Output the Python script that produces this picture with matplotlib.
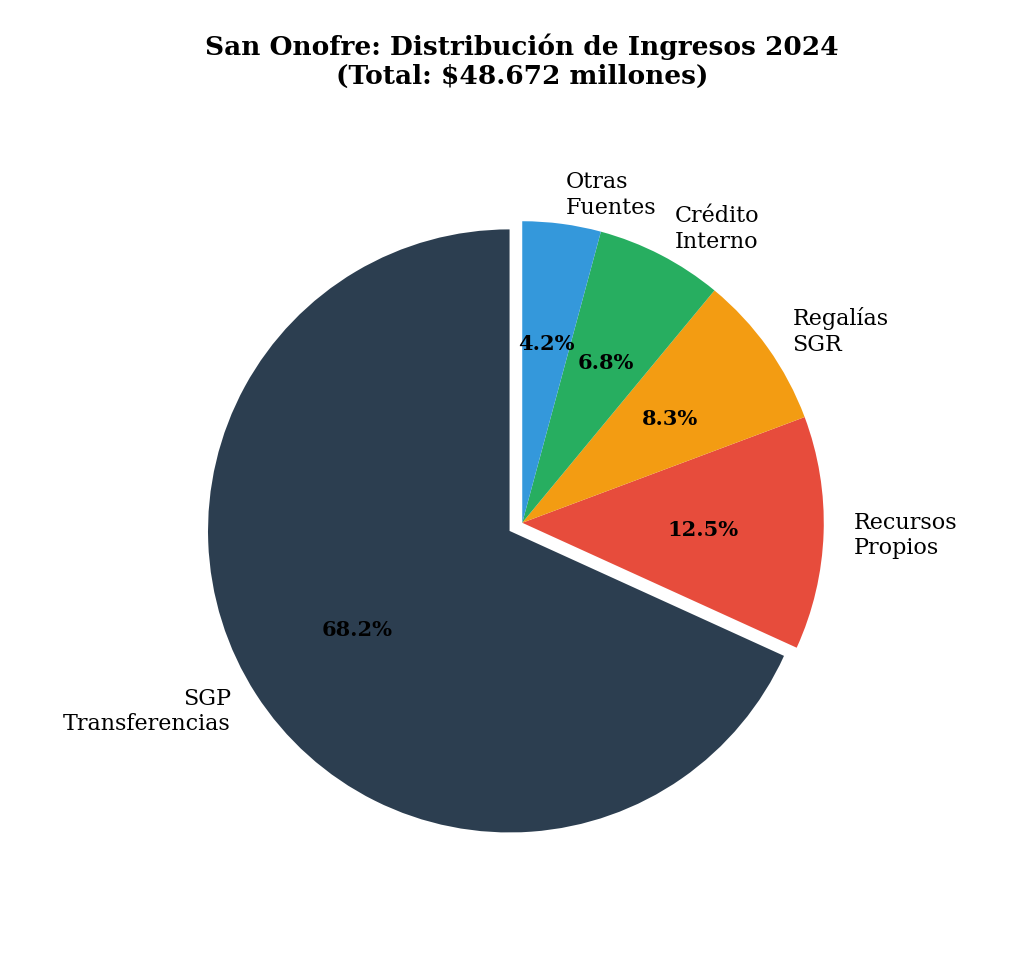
import matplotlib.pyplot as plt

labels = ["SGP\nTransferencias", "Recursos\nPropios", "Regalías\nSGR", "Crédito\nInterno", "Otras\nFuentes"]
shares = [68.2, 12.5, 8.3, 6.8, 4.2]
colors = ["#2c3e50", "#e74c3c", "#f39c12", "#27ae60", "#3498db"]
explode = [0.05, 0, 0, 0, 0]

plt.rcParams['font.family'] = ['DejaVu Serif']
fig, ax = plt.subplots(figsize=(10.24, 9.79), dpi=100)
wedges, texts, autotexts = ax.pie(shares, labels=labels, colors=colors, explode=explode,
                                  startangle=90, autopct='%1.1f%%', pctdistance=0.6,
                                  labeldistance=1.1,
                                  textprops={'fontsize': 16})
for t in autotexts:
    t.set_fontweight('bold')
    t.set_fontsize(15)
    t.set_color('black')
ax.set_aspect('equal')
ax.set_title("San Onofre: Distribución de Ingresos 2024\n(Total: $48.672 millones)",
             fontsize=19, fontweight='bold', pad=45)
plt.subplots_adjust(left=0.05, right=0.97, top=0.85, bottom=0.08)
fig.savefig("out.png", dpi=100)
